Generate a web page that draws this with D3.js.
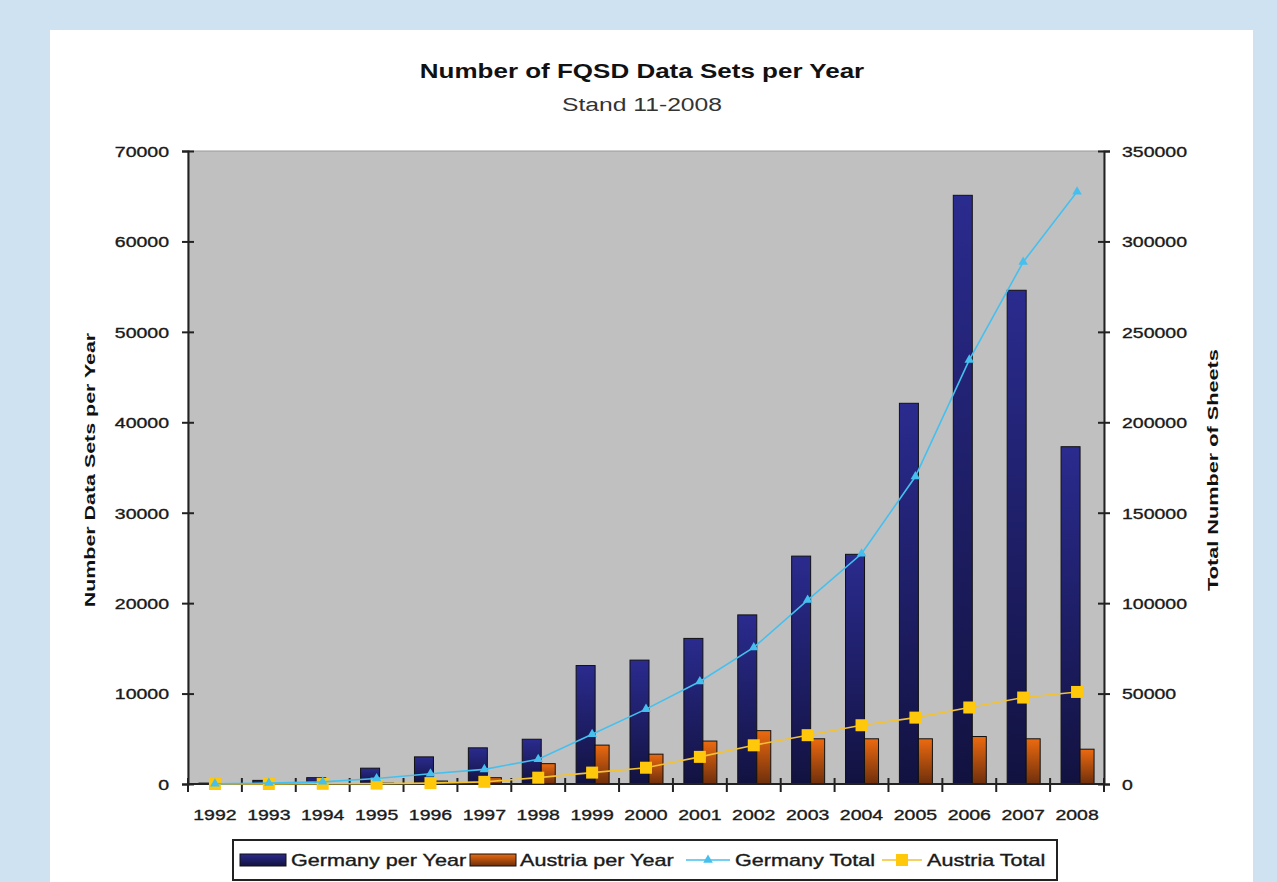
<!DOCTYPE html>
<html>
<head>
<meta charset="utf-8">
<script src="https://cdn.jsdelivr.net/npm/d3@7"></script>
<style>
  html, body { margin: 0; padding: 0; background: #cfe2f2; }
  svg { display: block; }
  text { font-family: 'Liberation Sans', Arial, sans-serif; }
  .heavy { stroke: #1a1a1a; stroke-width: 0.35px; }
</style>
</head>
<body>
<svg width="1277" height="882"></svg>
<script>
// chart data
const years = ['1992', '1993', '1994', '1995', '1996', '1997', '1998', '1999', '2000',
    '2001', '2002', '2003', '2004', '2005', '2006', '2007', '2008'];
const germanyPerYear = [100, 400, 700, 1750, 3000, 4000, 4950, 13100, 13700,
    16100, 18700, 25200, 25400, 42100, 65100, 54600, 37300];
const austriaPerYear = [0, 0, 50, 100, 330, 700, 2250, 4300, 3300,
    4750, 5900, 5000, 5000, 5000, 5250, 5000, 3850];
const germanyTotal = [100, 500, 1200, 3000, 5700, 8100, 13700, 27500, 41400,
    56700, 75500, 101700, 127300, 170000, 234500, 288600, 327500];
const austriaTotal = [0, 0, 100, 200, 500, 1200, 3500, 6300, 9000,
    15000, 21400, 27000, 32500, 36700, 42300, 47800, 50900];
const leftTicks = [0, 10000, 20000, 30000, 40000, 50000, 60000, 70000];
const rightTicks = [0, 50000, 100000, 150000, 200000, 250000, 300000, 350000];

const svg = d3.select('svg');

const plot = { left: 188, right: 1104, top: 151, bottom: 784 };

const x = d3.scaleBand().domain(years).range([plot.left, plot.right]);
const yLeft = d3.scaleLinear().domain([0, 70000]).range([plot.bottom, plot.top]);
const yRight = d3.scaleLinear().domain([0, 350000]).range([plot.bottom, plot.top]);
const cx = d => x(d) + x.bandwidth() / 2;

// the chart font is wide, so text is stretched along its reading direction
function place(sel, px, py, s, rot) {
    return sel.attr('transform', `translate(${px},${py}) rotate(${rot || 0}) scale(${s},1)`);
}

// white card
svg.append('rect').attr('x', 50).attr('y', 30).attr('width', 1203).attr('height', 860).attr('fill', '#fff');

// gradients
const defs = svg.append('defs');
const grad = (id, top, bottom) => {
    const g = defs.append('linearGradient').attr('id', id)
        .attr('x1', 0).attr('y1', 0).attr('x2', 0).attr('y2', 1);
    g.append('stop').attr('offset', '0%').attr('stop-color', top);
    g.append('stop').attr('offset', '100%').attr('stop-color', bottom);
};
grad('gGer', '#2a2b8e', '#121240');
grad('gAut', '#ec6a10', '#6e2f0c');

// titles
place(svg.append('text'), 642, 78, 1.3)
    .attr('text-anchor', 'middle').attr('font-size', 20).attr('font-weight', 'bold').attr('fill', '#111')
    .text('Number of FQSD Data Sets per Year');
place(svg.append('text'), 642, 111, 1.3)
    .attr('text-anchor', 'middle').attr('font-size', 19).attr('fill', '#333')
    .text('Stand 11-2008');

// plot area
svg.append('rect')
    .attr('x', plot.left).attr('y', plot.top)
    .attr('width', plot.right - plot.left).attr('height', plot.bottom - plot.top)
    .attr('fill', '#c0c0c0').attr('stroke', '#9a9a9a').attr('stroke-width', 1);

// bars
svg.append('g').selectAll('rect')
    .data(years)
    .join('rect')
    .attr('x', d => cx(d) - 16)
    .attr('width', 19)
    .attr('y', (d, i) => yLeft(germanyPerYear[i]))
    .attr('height', (d, i) => plot.bottom - yLeft(germanyPerYear[i]))
    .attr('fill', 'url(#gGer)').attr('stroke', '#111').attr('stroke-width', 1);

svg.append('g').selectAll('rect')
    .data(years)
    .join('rect')
    .attr('x', d => cx(d) + 3)
    .attr('width', 14)
    .attr('y', (d, i) => yLeft(austriaPerYear[i]))
    .attr('height', (d, i) => plot.bottom - yLeft(austriaPerYear[i]))
    .attr('fill', 'url(#gAut)').attr('stroke', '#111').attr('stroke-width', 1);

// left axis
const axL = svg.append('g').attr('transform', `translate(${plot.left},0)`)
    .call(d3.axisLeft(yLeft).tickValues(leftTicks).tickSize(6).tickFormat(d3.format('d')));
axL.select('.domain').attr('stroke', '#222').attr('stroke-width', 2);
axL.selectAll('.tick line').attr('x1', 6).attr('x2', -6).attr('stroke', '#222').attr('stroke-width', 2);
axL.selectAll('.tick text').attr('x', -19 / 1.3).attr('dy', '0.36em').classed('heavy', true)
    .attr('transform', 'scale(1.3,1)').attr('font-size', 15).attr('fill', '#1a1a1a');

// right axis
const axR = svg.append('g').attr('transform', `translate(${plot.right},0)`)
    .call(d3.axisRight(yRight).tickValues(rightTicks).tickSize(6).tickFormat(d3.format('d')));
axR.select('.domain').attr('stroke', '#222').attr('stroke-width', 2);
axR.selectAll('.tick line').attr('x1', -6).attr('x2', 6).attr('stroke', '#222').attr('stroke-width', 2);
axR.selectAll('.tick text').attr('x', 18 / 1.3).attr('dy', '0.36em').classed('heavy', true)
    .attr('transform', 'scale(1.3,1)').attr('font-size', 15).attr('fill', '#1a1a1a');

// bottom axis: labels at centres, ticks at category borders
const axB = svg.append('g').attr('transform', `translate(0,${plot.bottom})`)
    .call(d3.axisBottom(x).tickSize(0));
axB.select('.domain').remove();
axB.selectAll('.tick text').attr('y', 0).attr('dy', 36).classed('heavy', true)
    .attr('transform', 'scale(1.3,1)').attr('font-size', 15).attr('fill', '#1a1a1a');
svg.append('line')
    .attr('x1', plot.left).attr('x2', plot.right)
    .attr('y1', plot.bottom).attr('y2', plot.bottom)
    .attr('stroke', '#222').attr('stroke-width', 2);
svg.append('g').selectAll('line')
    .data(years.concat(['end']))
    .join('line')
    .attr('x1', d => d === 'end' ? plot.right : x(d))
    .attr('x2', d => d === 'end' ? plot.right : x(d))
    .attr('y1', plot.bottom - 6).attr('y2', plot.bottom + 8)
    .attr('stroke', '#222').attr('stroke-width', 2);

// axis titles
place(svg.append('text'), 95, 470, 1.53, -90)
    .attr('text-anchor', 'middle').attr('font-size', 14).attr('font-weight', 'bold').attr('fill', '#111')
    .text('Number Data Sets per Year');
place(svg.append('text'), 1218, 470, 1.55, -90)
    .attr('text-anchor', 'middle').attr('font-size', 14).attr('font-weight', 'bold').attr('fill', '#111')
    .text('Total Number of Sheets');

// total lines
const gerColor = '#45c0ee';
const autColor = '#ffc80a';

const lineGer = d3.line().x(d => cx(d)).y((d, i) => yRight(germanyTotal[i]));
const lineAut = d3.line().x(d => cx(d)).y((d, i) => yRight(austriaTotal[i]));

svg.append('path').datum(years).attr('d', lineAut)
    .attr('fill', 'none').attr('stroke', '#f2c232').attr('stroke-width', 1.6);
svg.append('g').selectAll('rect')
    .data(years)
    .join('rect')
    .attr('x', d => cx(d) - 6)
    .attr('y', (d, i) => yRight(austriaTotal[i]) - 6)
    .attr('width', 12).attr('height', 12)
    .attr('fill', autColor);

svg.append('path').datum(years).attr('d', lineGer)
    .attr('fill', 'none').attr('stroke', gerColor).attr('stroke-width', 1.6);
const tri = d3.symbol().type(d3.symbolTriangle).size(40);
svg.append('g').selectAll('path')
    .data(years)
    .join('path')
    .attr('d', tri)
    .attr('transform', (d, i) => `translate(${cx(d)},${yRight(germanyTotal[i])})`)
    .attr('fill', gerColor);

// legend
const legend = svg.append('g');
legend.append('rect').attr('x', 233).attr('y', 840).attr('width', 824).attr('height', 40)
    .attr('fill', '#fff').attr('stroke', '#222').attr('stroke-width', 2);

const legendItems = [
    { label: 'Germany per Year', kind: 'bar', fill: 'url(#gGer)', x0: 240, tx: 291 },
    { label: 'Austria per Year', kind: 'bar', fill: 'url(#gAut)', x0: 470, tx: 520 },
    { label: 'Germany Total', kind: 'tri', x0: 686, tx: 735 },
    { label: 'Austria Total', kind: 'sq', x0: 882, tx: 927 },
];
const ly = 860;
legendItems.forEach(it => {
    if (it.kind === 'bar') {
        legend.append('rect').attr('x', it.x0).attr('y', ly - 6).attr('width', 46).attr('height', 12)
            .attr('fill', it.fill).attr('stroke', '#111').attr('stroke-width', 1);
    } else if (it.kind === 'tri') {
        legend.append('line').attr('x1', it.x0).attr('x2', it.x0 + 44).attr('y1', ly).attr('y2', ly)
            .attr('stroke', gerColor).attr('stroke-width', 1.6);
        legend.append('path').attr('d', tri).attr('transform', `translate(${it.x0 + 22},${ly})`).attr('fill', gerColor);
    } else {
        legend.append('line').attr('x1', it.x0).attr('x2', it.x0 + 40).attr('y1', ly).attr('y2', ly)
            .attr('stroke', '#f2c232').attr('stroke-width', 1.6);
        legend.append('rect').attr('x', it.x0 + 14).attr('y', ly - 6).attr('width', 12).attr('height', 12)
            .attr('fill', autColor);
    }
    place(legend.append('text'), it.tx, ly + 6, 1.35)
        .attr('font-size', 16).attr('fill', '#1a1a1a').classed('heavy', true).text(it.label);
});
</script>
</body>
</html>
